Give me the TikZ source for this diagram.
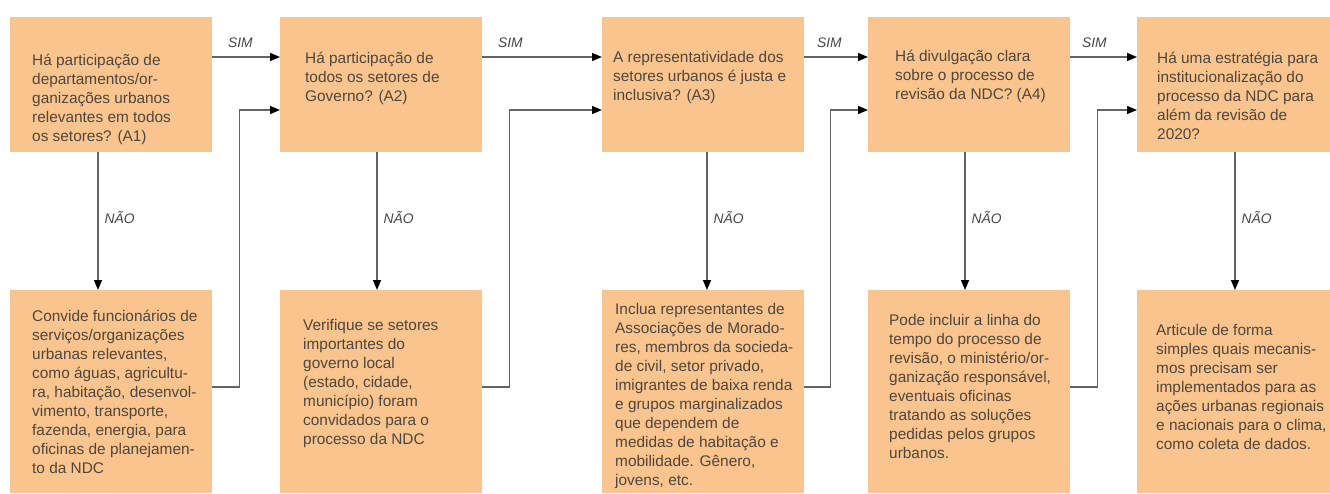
\documentclass[tikz,border=0pt]{standalone}
\usepackage{fontspec}
\setmainfont{Liberation Sans}
\usetikzlibrary{arrows.meta, positioning}
\definecolor{NdcOrange}{RGB}{249, 196, 141}
\definecolor{NdcText}{RGB}{80, 70, 62}
\definecolor{NdcLine}{RGB}{100, 100, 100}
\definecolor{NdcTag}{RGB}{70, 70, 70}
\newcommand{\ndcfont}{\fontsize{15.4}{19}\selectfont}
\tikzset{
  question/.style={fill=NdcOrange, minimum width=202pt, minimum height=135pt, inner sep=0pt, anchor=north west},
  action/.style={question, minimum height=203pt},
  boxtext/.style={text=NdcText, font=\ndcfont, align=left, inner sep=0pt, anchor=north west, execute at begin node=\strut},
  flow/.style={draw=NdcLine, line width=1.4pt, -{Triangle[length=10pt, width=8pt, color=black]}},
  answer/.style={text=NdcTag, font=\fontsize{13.8}{16}\selectfont\itshape, inner sep=0pt}
}

\begin{document}
\begin{tikzpicture}[x=1pt, y=-1pt]
  \useasboundingbox (0,0) rectangle (1330,493);

  % question boxes
  \node[question] (q1) at (10,17) {};
  \node[question] (q2) at (280,17) {};
  \node[question] (q3) at (602,17) {};
  \node[question] (q4) at (868,17) {};
  \node[question] (q5) at (1137,17) {};

  % action boxes
  \node[action] (a1) at (10,290) {};
  \node[action] (a2) at (280,290) {};
  \node[action] (a3) at (602,290) {};
  \node[action] (a4) at (868,290) {};
  \node[action] (a5) at (1137,290) {};

  % question texts
  \node[boxtext, below right=37pt and 22pt of q1.north west] (q1text) {Há participação de\\departamentos/or-\\ganizações urbanos\\relevantes em todos\\os setores? (A1)};
  \node[boxtext, below right=35pt and 25pt of q2.north west] (q2text) {Há participação de\\todos os setores de\\Governo? (A2)};
  \node[boxtext, below right=34pt and 11pt of q3.north west] (q3text) {A representatividade dos\\setores urbanos é justa e\\inclusiva? (A3)};
  \node[boxtext, below right=33pt and 27pt of q4.north west] (q4text) {Há divulgação clara\\sobre o processo de\\revisão da NDC? (A4)};
  \node[boxtext, below right=35pt and 20pt of q5.north west] (q5text) {Há uma estratégia para\\institucionalização do\\processo da NDC para\\além da revisão de\\2020?};

  % action texts
  \node[boxtext, below right=20pt and 22pt of a1.north west] (a1text) {Convide funcionários de\\serviços/organizações\\urbanas relevantes,\\como águas, agricultu-\\ra, habitação, desenvol-\\vimento, transporte,\\fazenda, energia, para\\oficinas de planejamen-\\to da NDC};
  \node[boxtext, below right=29pt and 23pt of a2.north west] (a2text) {Verifique se setores\\importantes do\\governo local\\(estado, cidade,\\município) foram\\convidados para o\\processo da NDC};
  \node[boxtext, below right=13pt and 13pt of a3.north west] (a3text) {Inclua representantes de\\Associações de Morado-\\res, membros da socieda-\\de civil, setor privado,\\imigrantes de baixa renda\\e grupos marginalizados\\que dependem de\\medidas de habitação e\\mobilidade. Gênero,\\jovens, etc.};
  \node[boxtext, below right=24pt and 21pt of a4.north west] (a4text) {Pode incluir a linha do\\tempo do processo de\\revisão, o ministério/or-\\ganização responsável,\\eventuais oficinas\\tratando as soluções\\pedidas pelos grupos\\urbanos.};
  \node[boxtext, below right=34pt and 19pt of a5.north west] (a5text) {Articule de forma\\simples quais mecanis-\\mos precisam ser\\implementados para as\\ações urbanas regionais\\e nacionais para o clima,\\como coleta de dados.};

  % SIM arrows
  \draw[flow] ([yshift=-40pt]q1.north east) -- node[answer, pos=0, anchor=base west, xshift=15pt, yshift=10pt] {SIM} ([yshift=-40pt]q2.north west);
  \draw[flow] ([yshift=-40pt]q2.north east) -- node[answer, pos=0, anchor=base west, xshift=15pt, yshift=10pt] {SIM} ([yshift=-40pt]q3.north west);
  \draw[flow] ([yshift=-40pt]q3.north east) -- node[answer, pos=0, anchor=base west, xshift=12pt, yshift=10pt] {SIM} ([yshift=-40pt]q4.north west);
  \draw[flow] ([yshift=-40pt]q4.north east) -- node[answer, pos=0, anchor=base west, xshift=11pt, yshift=10pt] {SIM} ([yshift=-40pt]q5.north west);

  % NAO arrows
  \draw[flow] ([xshift=88pt]q1.south west) -- node[answer, pos=0.47, anchor=west, xshift=6pt] {NÃO} ([xshift=88pt]a1.north west);
  \draw[flow] ([xshift=97pt]q2.south west) -- node[answer, pos=0.47, anchor=west, xshift=6pt] {NÃO} ([xshift=97pt]a2.north west);
  \draw[flow] ([xshift=105pt]q3.south west) -- node[answer, pos=0.47, anchor=west, xshift=6pt] {NÃO} ([xshift=105pt]a3.north west);
  \draw[flow] ([xshift=97pt]q4.south west) -- node[answer, pos=0.47, anchor=west, xshift=6pt] {NÃO} ([xshift=97pt]a4.north west);
  \draw[flow] ([xshift=98pt]q5.south west) -- node[answer, pos=0.47, anchor=west, xshift=6pt] {NÃO} ([xshift=98pt]a5.north west);

  % back to the next question
  \draw[flow] ([yshift=-97pt]a1.north east) -- ++(27,0) |- ([yshift=-93pt]q2.north west);
  \draw[flow] ([yshift=-97pt]a2.north east) -- ++(27,0) |- ([yshift=-93pt]q3.north west);
  \draw[flow] ([yshift=-97pt]a3.north east) -- ++(26,0) |- ([yshift=-93pt]q4.north west);
  \draw[flow] ([yshift=-97pt]a4.north east) -- ++(27,0) |- ([yshift=-93pt]q5.north west);
\end{tikzpicture}
\end{document}
